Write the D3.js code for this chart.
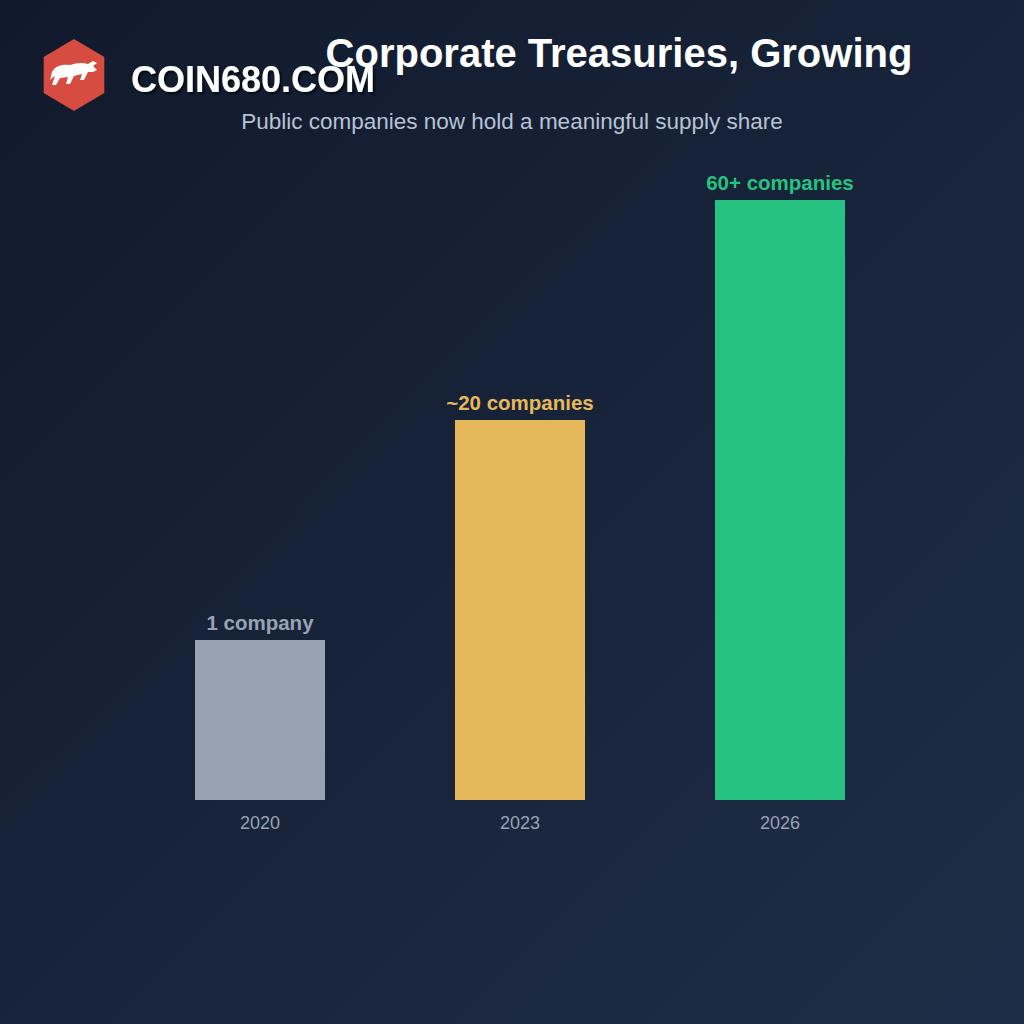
<!DOCTYPE html>
<html><head><meta charset="utf-8">
<script src="https://cdn.jsdelivr.net/npm/d3@7"></script>
<style>body{margin:0;background:#141e30}</style>
</head><body>
<svg id="chart" width="1024" height="1024"></svg>
<script>
// data
var years = ["2020", "2023", "2026"];
var barHeightsRel = [8, 19, 30];   // visual bar length
var labels = ["1 company", "~20 companies", "60+ companies"];
var colors = ["#97a3b3", "#e5b95b", "#26c281"];

var svg = d3.select("#chart");
var defs = svg.append("defs");
var g = defs.append("linearGradient").attr("id", "bg")
  .attr("x1", "0").attr("y1", "0").attr("x2", "1").attr("y2", "1");
g.append("stop").attr("offset", "0").attr("stop-color", "#111a2c");
g.append("stop").attr("offset", "1").attr("stop-color", "#1e2d47");
svg.append("rect").attr("width", 1024).attr("height", 1024).attr("fill", "url(#bg)");
var sh = defs.append("filter").attr("id", "sh");
sh.append("feDropShadow").attr("dx", 2).attr("dy", 2).attr("stdDeviation", 1).attr("flood-color", "#000").attr("flood-opacity", 0.7);

// titles
svg.append("text").attr("x", 619).attr("y", 67).attr("text-anchor", "middle")
  .attr("font-family", "Liberation Sans, Arial").attr("font-weight", "bold")
  .attr("font-size", 40).attr("fill", "#fff").text("Corporate Treasuries, Growing");
svg.append("text").attr("x", 512).attr("y", 129).attr("text-anchor", "middle")
  .attr("font-family", "Liberation Sans, Arial").attr("font-size", 22.5)
  .attr("fill", "#b8c3d3").text("Public companies now hold a meaningful supply share");

// logo
var hex = d3.range(6).map(function(i){
  var a = Math.PI / 3 * i - Math.PI / 2;
  return [74 + 35 * Math.cos(a), 75 + 36 * Math.sin(a)];
});
svg.append("path").attr("d", "M" + hex.join("L") + "Z").attr("fill", "#d64c41");
svg.append("path").attr("fill", "#fff")
  .attr("d", "M52,72 C55,66 62,64 70,65 C76,63 82,62 88,64 L93,61 L97,63 L93,66 L97,70 L93,72 L88,72 L84,80 L80,80 L82,74 L74,76 L70,84 L66,84 L68,77 L60,78 L56,85 L52,85 L55,76 C53,77 51,79 50,80 Z");
svg.append("text").attr("x", 131).attr("y", 92)
  .attr("font-family", "Liberation Sans, Arial").attr("font-weight", "bold")
  .attr("font-size", 36).attr("fill", "#fff").attr("filter", "url(#sh)").text("COIN680.COM");

// chart
var x = d3.scaleBand().domain(years).range([65, 975]).padding(0.5);
var y = d3.scaleLinear().domain([0, 30]).range([800, 200]);

svg.selectAll(".bar").data(years).enter().append("rect")
  .attr("x", function(d){ return x(d); })
  .attr("width", x.bandwidth())
  .attr("y", function(d, i){ return y(barHeightsRel[i]); })
  .attr("height", function(d, i){ return 800 - y(barHeightsRel[i]); })
  .attr("fill", function(d, i){ return colors[i]; });

svg.selectAll(".lab").data(years).enter().append("text")
  .attr("x", function(d){ return x(d) + x.bandwidth() / 2; })
  .attr("y", function(d, i){ return y(barHeightsRel[i]) - 10; })
  .attr("text-anchor", "middle").attr("font-family", "Liberation Sans, Arial")
  .attr("font-weight", "bold").attr("font-size", 20.5)
  .attr("fill", function(d, i){ return colors[i]; })
  .text(function(d, i){ return labels[i]; });

var ax = svg.append("g").attr("transform", "translate(0,800)")
  .call(d3.axisBottom(x).tickSize(0).tickPadding(16));
ax.select(".domain").remove();
ax.selectAll("text").attr("font-family", "Liberation Sans, Arial")
  .attr("font-size", 18).attr("fill", "#97a3b3");
</script>
</body></html>
